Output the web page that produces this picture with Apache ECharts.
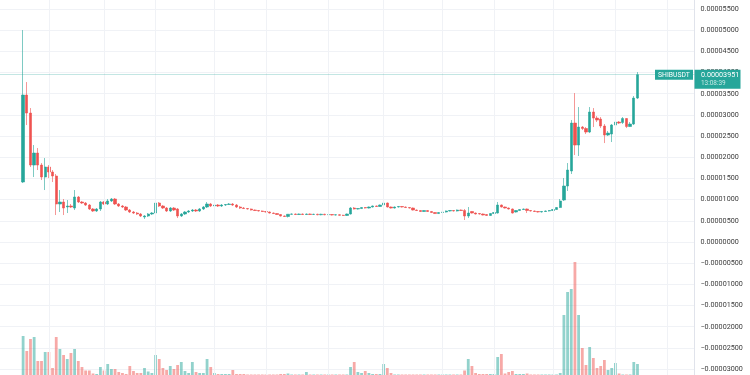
<!DOCTYPE html>
<html>
<head>
<meta charset="utf-8">
<script src="https://cdn.jsdelivr.net/npm/echarts@6/dist/echarts.min.js"></script>
<style>
html,body{margin:0;padding:0;background:#ffffff;}
#c{width:750px;height:375px;}
</style>
</head>
<body>
<div id="c"></div>
<script>
// ---------- data (daily candles, SHIB/USDT, first candle 2021-05-10) ----------
const symbol = 'SHIBUSDT';
const countdown = '13:08:39';
const firstCategory = '2021-05-04';   // axis starts 6 days before the first candle
const leadingDays = 6;
const totalDays = 189;

const open = [
1416e-8,3469e-8,3044e-8,1817e-8,2100e-8,1817e-8,1534e-8,1770e-8,1652e-8,1558e-8,
897e-8,944e-8,826e-8,850e-8,802e-8,1062e-8,944e-8,920e-8,873e-8,779e-8,
732e-8,779e-8,944e-8,897e-8,968e-8,1015e-8,897e-8,850e-8,826e-8,755e-8,
708e-8,684e-8,661e-8,590e-8,614e-8,661e-8,684e-8,920e-8,850e-8,802e-8,
732e-8,802e-8,779e-8,614e-8,661e-8,708e-8,732e-8,755e-8,732e-8,779e-8,
826e-8,897e-8,850e-8,873e-8,850e-8,873e-8,885e-8,897e-8,873e-8,826e-8,
802e-8,790e-8,779e-8,755e-8,743e-8,732e-8,720e-8,708e-8,684e-8,672e-8,
649e-8,614e-8,602e-8,655e-8,661e-8,649e-8,661e-8,649e-8,661e-8,649e-8,
655e-8,643e-8,655e-8,643e-8,649e-8,637e-8,643e-8,631e-8,626e-8,661e-8,
802e-8,779e-8,790e-8,814e-8,802e-8,826e-8,850e-8,838e-8,873e-8,920e-8,
826e-8,802e-8,826e-8,838e-8,826e-8,814e-8,802e-8,755e-8,743e-8,720e-8,
743e-8,720e-8,696e-8,672e-8,696e-8,708e-8,732e-8,743e-8,732e-8,755e-8,
743e-8,614e-8,720e-8,684e-8,672e-8,661e-8,649e-8,626e-8,672e-8,684e-8,
873e-8,826e-8,802e-8,779e-8,708e-8,743e-8,767e-8,779e-8,743e-8,732e-8,
720e-8,708e-8,720e-8,732e-8,743e-8,767e-8,814e-8,991e-8,1322e-8,1676e-8,
2808e-8,2289e-8,2714e-8,2679e-8,2596e-8,3068e-8,2926e-8,2903e-8,2738e-8,2525e-8,
2549e-8,2761e-8,2832e-8,2820e-8,2915e-8,2726e-8,2785e-8,3398e-8
];
const close = [
3469e-8,3044e-8,1817e-8,2100e-8,1817e-8,1534e-8,1770e-8,1652e-8,1558e-8,897e-8,
944e-8,802e-8,850e-8,826e-8,1062e-8,944e-8,920e-8,873e-8,779e-8,732e-8,
779e-8,944e-8,897e-8,968e-8,1015e-8,897e-8,850e-8,826e-8,755e-8,708e-8,
684e-8,661e-8,614e-8,614e-8,661e-8,684e-8,920e-8,850e-8,802e-8,732e-8,
802e-8,755e-8,614e-8,661e-8,708e-8,732e-8,755e-8,732e-8,779e-8,826e-8,
897e-8,850e-8,873e-8,850e-8,873e-8,885e-8,897e-8,873e-8,826e-8,802e-8,
790e-8,779e-8,755e-8,743e-8,732e-8,720e-8,708e-8,684e-8,672e-8,649e-8,
614e-8,602e-8,655e-8,661e-8,649e-8,661e-8,649e-8,661e-8,649e-8,655e-8,
643e-8,655e-8,643e-8,649e-8,637e-8,643e-8,631e-8,626e-8,661e-8,802e-8,
779e-8,790e-8,814e-8,802e-8,826e-8,850e-8,838e-8,873e-8,920e-8,826e-8,
802e-8,826e-8,838e-8,826e-8,814e-8,802e-8,755e-8,743e-8,720e-8,743e-8,
720e-8,696e-8,672e-8,696e-8,708e-8,732e-8,743e-8,732e-8,755e-8,743e-8,
614e-8,684e-8,684e-8,661e-8,661e-8,637e-8,626e-8,672e-8,696e-8,873e-8,
826e-8,802e-8,779e-8,684e-8,743e-8,767e-8,779e-8,743e-8,732e-8,720e-8,
708e-8,720e-8,732e-8,743e-8,767e-8,814e-8,968e-8,1322e-8,1699e-8,2808e-8,
2289e-8,2714e-8,2679e-8,2596e-8,3068e-8,2926e-8,2879e-8,2738e-8,2525e-8,2572e-8,
2761e-8,2832e-8,2808e-8,2915e-8,2726e-8,2785e-8,3398e-8,3951e-8
];
const high = [
5003e-8,3776e-8,3162e-8,2289e-8,2218e-8,1864e-8,1982e-8,1817e-8,1699e-8,1605e-8,
1227e-8,1015e-8,991e-8,897e-8,1227e-8,1086e-8,968e-8,944e-8,897e-8,802e-8,
802e-8,968e-8,968e-8,1015e-8,1038e-8,1038e-8,920e-8,873e-8,850e-8,779e-8,
732e-8,708e-8,684e-8,637e-8,684e-8,708e-8,968e-8,944e-8,873e-8,826e-8,
826e-8,826e-8,802e-8,684e-8,732e-8,755e-8,779e-8,779e-8,802e-8,850e-8,
944e-8,920e-8,897e-8,897e-8,897e-8,897e-8,920e-8,920e-8,897e-8,850e-8,
826e-8,802e-8,790e-8,767e-8,755e-8,743e-8,732e-8,720e-8,696e-8,684e-8,
661e-8,626e-8,661e-8,672e-8,672e-8,672e-8,672e-8,672e-8,672e-8,667e-8,
667e-8,667e-8,667e-8,661e-8,661e-8,655e-8,655e-8,643e-8,672e-8,826e-8,
826e-8,802e-8,826e-8,826e-8,838e-8,862e-8,862e-8,885e-8,944e-8,932e-8,
838e-8,838e-8,850e-8,850e-8,838e-8,826e-8,814e-8,767e-8,755e-8,755e-8,
755e-8,732e-8,708e-8,708e-8,720e-8,743e-8,755e-8,755e-8,767e-8,767e-8,
779e-8,826e-8,732e-8,696e-8,684e-8,672e-8,661e-8,684e-8,708e-8,944e-8,
885e-8,838e-8,814e-8,790e-8,755e-8,779e-8,790e-8,790e-8,755e-8,743e-8,
732e-8,732e-8,743e-8,755e-8,779e-8,826e-8,1015e-8,1510e-8,1864e-8,2879e-8,
3516e-8,3186e-8,2738e-8,2714e-8,3186e-8,3162e-8,2974e-8,2950e-8,2785e-8,2620e-8,
2785e-8,2879e-8,2856e-8,2950e-8,2926e-8,2832e-8,3446e-8,4012e-8
];
const low = [
1392e-8,2761e-8,1770e-8,1534e-8,1699e-8,1463e-8,1227e-8,1510e-8,1416e-8,637e-8,
708e-8,637e-8,684e-8,802e-8,755e-8,920e-8,897e-8,850e-8,755e-8,708e-8,
708e-8,732e-8,873e-8,873e-8,944e-8,873e-8,826e-8,802e-8,732e-8,684e-8,
661e-8,637e-8,590e-8,543e-8,590e-8,637e-8,661e-8,826e-8,779e-8,708e-8,
708e-8,732e-8,566e-8,590e-8,637e-8,684e-8,708e-8,708e-8,708e-8,755e-8,
802e-8,826e-8,826e-8,826e-8,826e-8,850e-8,873e-8,850e-8,802e-8,779e-8,
779e-8,767e-8,743e-8,732e-8,720e-8,708e-8,696e-8,672e-8,661e-8,637e-8,
602e-8,590e-8,578e-8,643e-8,637e-8,637e-8,637e-8,637e-8,637e-8,637e-8,
631e-8,631e-8,631e-8,631e-8,626e-8,626e-8,620e-8,614e-8,614e-8,649e-8,
767e-8,767e-8,779e-8,790e-8,790e-8,814e-8,826e-8,826e-8,862e-8,814e-8,
790e-8,790e-8,814e-8,814e-8,802e-8,790e-8,743e-8,732e-8,708e-8,708e-8,
708e-8,684e-8,661e-8,661e-8,684e-8,696e-8,720e-8,720e-8,720e-8,732e-8,
519e-8,566e-8,672e-8,649e-8,649e-8,626e-8,614e-8,614e-8,661e-8,672e-8,
814e-8,790e-8,767e-8,672e-8,696e-8,732e-8,755e-8,684e-8,720e-8,708e-8,
696e-8,696e-8,708e-8,720e-8,732e-8,755e-8,802e-8,968e-8,1204e-8,1605e-8,
2053e-8,2030e-8,2643e-8,2549e-8,2572e-8,2714e-8,2832e-8,2690e-8,2336e-8,2502e-8,
2360e-8,2738e-8,2785e-8,2785e-8,2690e-8,2714e-8,2761e-8,3375e-8
];
// relative volume
const volume = [
39,24,36,38,14,14,23,23,7,38,
26,20,16,22,26,14,8,4.5,4.5,1.5,
1,8,4.5,11,6,6,3,2,1,9,
4,2,2,7,3.5,2,20,16,7,5,
9,6,10,13,4,2,13,3,2,2,
16,8,2,1,1,1,1,5,1,1,
1,0.5,0.5,0.5,0.5,0.5,0.5,0.5,0.5,0.5,
1,1,1.5,0.5,0.5,0.5,0.5,3,0.5,0.5,
0.5,0.5,0.5,0.5,0.5,0.5,0.5,0.5,0.5,8,
13,3,2,4,2,1,1,1,11,7,
2,0.5,0.5,0.5,0.5,0.5,0.5,0.5,0.5,0.5,
0.5,0.5,0.5,0.5,0.5,0.5,0.5,0.5,0.5,0.5,
4.5,16,9,2,1,1,1,1,1,18,
21,1.5,3,4,1,1,1,1.5,0.5,0.5,
0.5,0.5,0.5,0.5,0.5,0.5,2,60,83,86,
113,60,27,10,28,17,7,9,15,5,
7,12,1.5,0.5,0.5,0.5,13,11
];
const gridLineDates = ['2021-05-17','2021-06-01','2021-06-15','2021-07-01','2021-07-15','2021-08-01',
  '2021-08-16','2021-09-01','2021-09-15','2021-10-01','2021-10-18','2021-11-01'];
const priceMin = -0.000035, priceMax = 0.00006, priceStep = 0.000005;

// ---------- build ----------
const UP = '#26a69a', DOWN = '#ef5350';
const UP_VOL = 'rgba(38,166,154,0.5)', DOWN_VOL = 'rgba(239,83,80,0.5)';
const GRID = {left: -0.8, right: 55.5, top: -12.16, bottom: -15.26};

const dates = [];
const d0 = new Date(firstCategory + 'T00:00:00Z');
for (let k = 0; k < totalDays; k++) {
  const d = new Date(d0.getTime() + k * 86400000);
  dates.push(d.toISOString().slice(0, 10));
}
const candleData = open.map((o, i) => [dates[i + leadingDays], o, close[i], low[i], high[i]]);
const volData = volume.map((v, i) => [dates[i + leadingDays], v]);
const lastClose = close[close.length - 1];

function fmt(v) {
  const s = Math.abs(v).toFixed(8);
  return (v < -1e-12 ? '\u2212' : '') + s;
}

const vLineStyle = {color: '#f0f2f6', width: 1, type: 'solid'};
const priceLineStyle = {color: 'rgba(38,166,154,0.28)', width: 1, type: 'solid'};

const chart = echarts.init(document.getElementById('c'), null, {renderer: 'canvas'});
chart.setOption({
  animation: false,
  backgroundColor: '#ffffff',
  grid: Object.assign({containLabel: false, outerBoundsMode: 'none'}, GRID),
  xAxis: {type: 'category', data: dates, boundaryGap: true, show: false,
          axisLine: {show: false}, axisTick: {show: false}, axisLabel: {show: false}, splitLine: {show: false}},
  yAxis: [
    {
      type: 'value', position: 'right', min: priceMin, max: priceMax, interval: priceStep,
      axisLine: {show: true, lineStyle: {color: '#e0e3eb', width: 1}},
      axisTick: {show: false},
      axisLabel: {margin: 6, fontSize: 7.2, fontFamily: 'Roboto', color: '#3a3a3a', formatter: fmt,
                  showMinLabel: false, showMaxLabel: false},
      splitLine: {show: true, lineStyle: {color: '#f0f2f6', width: 1}}
    },
    {type: 'value', min: -15.26, max: 387.16, show: false, splitLine: {show: false},
     axisLine: {show: false}}
  ],
  series: [
    {
      type: 'line', data: [], silent: true, z: 0, yAxisIndex: 0,
      markLine: {
        silent: true, symbol: ['none', 'none'], animation: false, precision: 12,
        label: {show: false},
        emphasis: {disabled: true},
        lineStyle: vLineStyle,
        data: gridLineDates.map(d => ({xAxis: d, lineStyle: vLineStyle}))
          .concat([{yAxis: lastClose, lineStyle: priceLineStyle}])
      }
    },
    {
      type: 'bar', yAxisIndex: 1, data: volData, barWidth: '76%', silent: true, z: 1,
      encode: {x: 0, y: 1},
      itemStyle: {color: p => (close[p.dataIndex] >= open[p.dataIndex] ? UP_VOL : DOWN_VOL)}
    },
    {
      type: 'candlestick', data: candleData, encode: {x: 0, y: [1, 2, 3, 4]},
      barWidth: 2.8, silent: true, z: 3,
      itemStyle: {color: UP, color0: DOWN, borderColor: UP, borderColor0: DOWN, borderWidth: 0.6}
    }
  ]
});

// price tag boxes anchored to the last close through the y scale
const py = chart.convertToPixel({yAxisIndex: 0}, lastClose);
const gx = chart.getWidth() - GRID.right;
chart.setOption({
  graphic: [
    {type: 'rect', z: 100, shape: {x: gx, y: py - 5, width: 46, height: 19}, style: {fill: UP}},
    {type: 'text', z: 101, x: gx + 6.5, y: py + 0.2,
     style: {text: fmt(lastClose), fill: '#ffffff', fontSize: 7.2, fontFamily: 'Roboto', align: 'left', verticalAlign: 'middle'}},
    {type: 'text', z: 101, x: gx + 6.5, y: py + 8.3,
     style: {text: countdown, fill: 'rgba(255,255,255,0.75)', fontSize: 6.4, fontFamily: 'Roboto', align: 'left', verticalAlign: 'middle'}},
    {type: 'rect', z: 100, shape: {x: gx - 39.5, y: py - 5, width: 38, height: 10}, style: {fill: UP}},
    {type: 'text', z: 101, x: gx - 20.5, y: py + 0.2,
     style: {text: symbol, fill: '#ffffff', fontSize: 6.8, fontFamily: 'Roboto', align: 'center', verticalAlign: 'middle'}}
  ]
});
</script>
</body>
</html>
